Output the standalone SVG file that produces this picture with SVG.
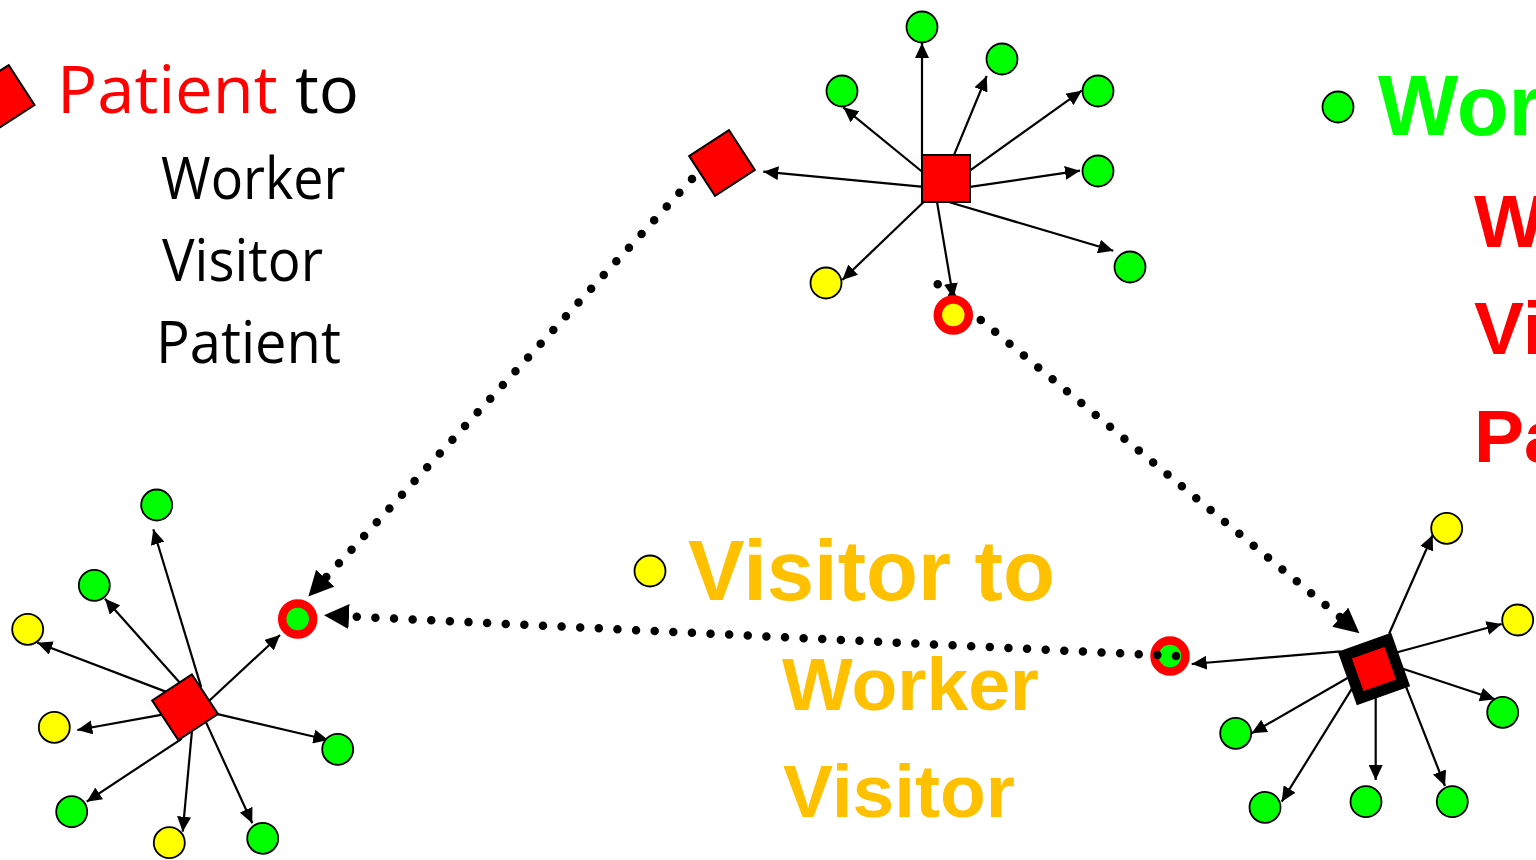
<svg xmlns="http://www.w3.org/2000/svg" width="1536" height="860" viewBox="0 0 1536 860">
<style>
.g{fill:#00FF00;stroke:#000;stroke-width:1.8}
.y{fill:#FFFF00;stroke:#000;stroke-width:1.8}
.ring{stroke:#FF0000;stroke-width:8.5}
.sq{fill:#FF0000;stroke:#000;stroke-width:2}
.edge{stroke:#000;stroke-width:2.2;fill:none;marker-end:url(#ah)}
.dot{stroke:#000;stroke-width:8.5;stroke-linecap:round;stroke-dasharray:0 18.64;fill:none;marker-end:url(#big)}
.cal{font-family:'Open Sans','Liberation Sans',sans-serif}
.b{font-family:'Liberation Sans',Arial,sans-serif;font-weight:bold}
</style>
<defs>
<marker id="ah" markerUnits="userSpaceOnUse" orient="auto" viewBox="-15 -7 15 14" markerWidth="15" markerHeight="14" refX="0" refY="0"><path d="M-15,-7 L0,0 L-15,7 z" fill="#000"/></marker>
<marker id="big" markerUnits="userSpaceOnUse" orient="auto" viewBox="0 -12.5 25 25" markerWidth="25" markerHeight="25" refX="0" refY="0"><path d="M0,-12.5 L25,0 L0,12.5 z" fill="#000"/></marker>
</defs>
<rect x="0" y="0" width="1536" height="860" fill="#fff"/>

<g id="legend-patient">
<rect class="sq" x="-23.75" y="-23.75" width="47.5" height="47.5" transform="translate(1.7,98) rotate(-33)"/>
<text class="cal" x="57" y="113" font-size="65" textLength="302" lengthAdjust="spacingAndGlyphs"><tspan fill="#FF0000">Patient</tspan><tspan fill="#000"> to</tspan></text>
<text class="cal" x="161" y="199" font-size="58" textLength="184.5" lengthAdjust="spacingAndGlyphs" fill="#000">Worker</text>
<text class="cal" x="162" y="281" font-size="58" textLength="161" lengthAdjust="spacingAndGlyphs" fill="#000">Visitor</text>
<text class="cal" x="156" y="363" font-size="58" textLength="185" lengthAdjust="spacingAndGlyphs" fill="#000">Patient</text>
</g>

<g id="legend-worker">
<circle class="g" cx="1338" cy="107" r="15.5"/>
<text class="b" x="1378" y="135" font-size="85" fill="#00FF00">Wor</text>
<text class="b" x="1474" y="247" font-size="75" fill="#FF0000">W</text>
<text class="b" x="1474" y="354" font-size="75" fill="#FF0000">Vi</text>
<text class="b" x="1474" y="462" font-size="75" fill="#FF0000">Pa</text>
</g>

<g id="legend-visitor">
<circle class="y" cx="650" cy="571" r="15.5"/>
<text class="b" x="688" y="600" font-size="85" fill="#FFC000">Visitor to</text>
<text class="b" x="782" y="710" font-size="75" fill="#FFC000">Worker</text>
<text class="b" x="783" y="817" font-size="75" fill="#FFC000">Visitor</text>
</g>

<g id="br-ring"><circle class="ring" cx="1170" cy="656" r="15.5" fill="#00FF00"/></g>

<g id="connectors">
<path class="dot" d="M692,179 L325.3,578.2"/>
<path class="dot" d="M937.7,284.3 L1340.2,617.2"/>
<path class="dot" d="M1176,656 L349,616.4"/>

<line class="edge" x1="922" y1="159" x2="922" y2="43"/>
<line class="edge" x1="952.5" y1="158.7" x2="986.7" y2="76"/>
<line class="edge" x1="923.1" y1="172.5" x2="843.3" y2="107.3"/>
<line class="edge" x1="967.4" y1="172.3" x2="1081.7" y2="90.7"/>
<line class="edge" x1="966.7" y1="187.3" x2="1080" y2="170.7"/>
<line class="edge" x1="949.5" y1="202.2" x2="1113.3" y2="250.7"/>
<line class="edge" x1="925.2" y1="200.5" x2="842.3" y2="280"/>
<line class="edge" x1="936.6" y1="199.4" x2="953.3" y2="298.3"/>
<line class="edge" x1="926.3" y1="187.1" x2="763.3" y2="171.7"/>

<line class="edge" x1="201.2" y1="687.1" x2="153.3" y2="529.3"/>
<line class="edge" x1="179.4" y1="682.3" x2="105" y2="598.7"/>
<line class="edge" x1="167" y1="692.1" x2="37.3" y2="642.7"/>
<line class="edge" x1="163.9" y1="714.3" x2="77.3" y2="730"/>
<line class="edge" x1="181.6" y1="738.8" x2="86.7" y2="801.7"/>
<line class="edge" x1="192.1" y1="729.3" x2="182.7" y2="831.7"/>
<line class="edge" x1="205.6" y1="721.4" x2="252.3" y2="823.3"/>
<line class="edge" x1="213.4" y1="713.1" x2="328.3" y2="740"/>
<line class="edge" x1="207.1" y1="702.7" x2="280" y2="635"/>

<line class="edge" x1="1389.1" y1="633.7" x2="1432.7" y2="535"/>
<line class="edge" x1="1395.4" y1="652.7" x2="1501.7" y2="624"/>
<line class="edge" x1="1402.9" y1="668.7" x2="1495" y2="699.3"/>
<line class="edge" x1="1405.2" y1="684.6" x2="1445" y2="786"/>
<line class="edge" x1="1375.7" y1="697.7" x2="1375.7" y2="780"/>
<line class="edge" x1="1352.1" y1="688.3" x2="1281.7" y2="801.7"/>
<line class="edge" x1="1347.5" y1="678" x2="1251.7" y2="733.3"/>
<line class="edge" x1="1340.7" y1="651.4" x2="1191.7" y2="664"/>
</g>

<g id="top-hub"><rect class="sq" x="922" y="155" width="48" height="47"/></g>
<g id="top-patient"><rect class="sq" x="-23.75" y="-23.75" width="47.5" height="47.5" transform="translate(722,163) rotate(-33)"/></g>
<g id="top-w1"><circle class="g" cx="922" cy="27" r="15.5"/></g>
<g id="top-w2"><circle class="g" cx="1002" cy="59" r="15.5"/></g>
<g id="top-w3"><circle class="g" cx="842" cy="91" r="15.5"/></g>
<g id="top-w4"><circle class="g" cx="1098" cy="91" r="15.5"/></g>
<g id="top-w5"><circle class="g" cx="1098" cy="171" r="15.5"/></g>
<g id="top-w6"><circle class="g" cx="1130" cy="267" r="15.5"/></g>
<g id="top-v1"><circle class="y" cx="826" cy="283" r="15.5"/></g>
<g id="top-ring"><circle class="ring" cx="953.3" cy="315" r="15.5" fill="#FFFF00"/></g>

<g id="bl-hub"><rect class="sq" x="-23.75" y="-23.75" width="47.5" height="47.5" transform="translate(185.1,707.2) rotate(-33.4)"/></g>
<g id="bl-w1"><circle class="g" cx="156.7" cy="505" r="15.5"/></g>
<g id="bl-w2"><circle class="g" cx="94.3" cy="585.3" r="15.5"/></g>
<g id="bl-v1"><circle class="y" cx="27.7" cy="629.3" r="15.5"/></g>
<g id="bl-v2"><circle class="y" cx="54.3" cy="727.3" r="15.5"/></g>
<g id="bl-w3"><circle class="g" cx="71.7" cy="811.7" r="15.5"/></g>
<g id="bl-v3"><circle class="y" cx="169.3" cy="842.7" r="15.5"/></g>
<g id="bl-w4"><circle class="g" cx="262.7" cy="838.3" r="15.5"/></g>
<g id="bl-w5"><circle class="g" cx="337.7" cy="749.3" r="15.5"/></g>
<g id="bl-ring"><circle class="ring" cx="297.7" cy="619" r="15.5" fill="#00FF00"/></g>

<g id="br-hub"><rect x="-22.8" y="-22.8" width="45.6" height="45.6" fill="#FF0000" stroke="#000" stroke-width="11" transform="translate(1374,669) rotate(-19.6)"/></g>
<g id="br-v1"><circle class="y" cx="1446.7" cy="528.3" r="15.5"/></g>
<g id="br-v2"><circle class="y" cx="1517.7" cy="620" r="15.5"/></g>
<g id="br-w1"><circle class="g" cx="1502.7" cy="712.3" r="15.5"/></g>
<g id="br-w2"><circle class="g" cx="1452.3" cy="801.7" r="15.5"/></g>
<g id="br-w3"><circle class="g" cx="1366" cy="801.7" r="15.5"/></g>
<g id="br-w4"><circle class="g" cx="1265" cy="807.3" r="15.5"/></g>
<g id="br-w5"><circle class="g" cx="1235.7" cy="733.3" r="15.5"/></g>
</svg>
